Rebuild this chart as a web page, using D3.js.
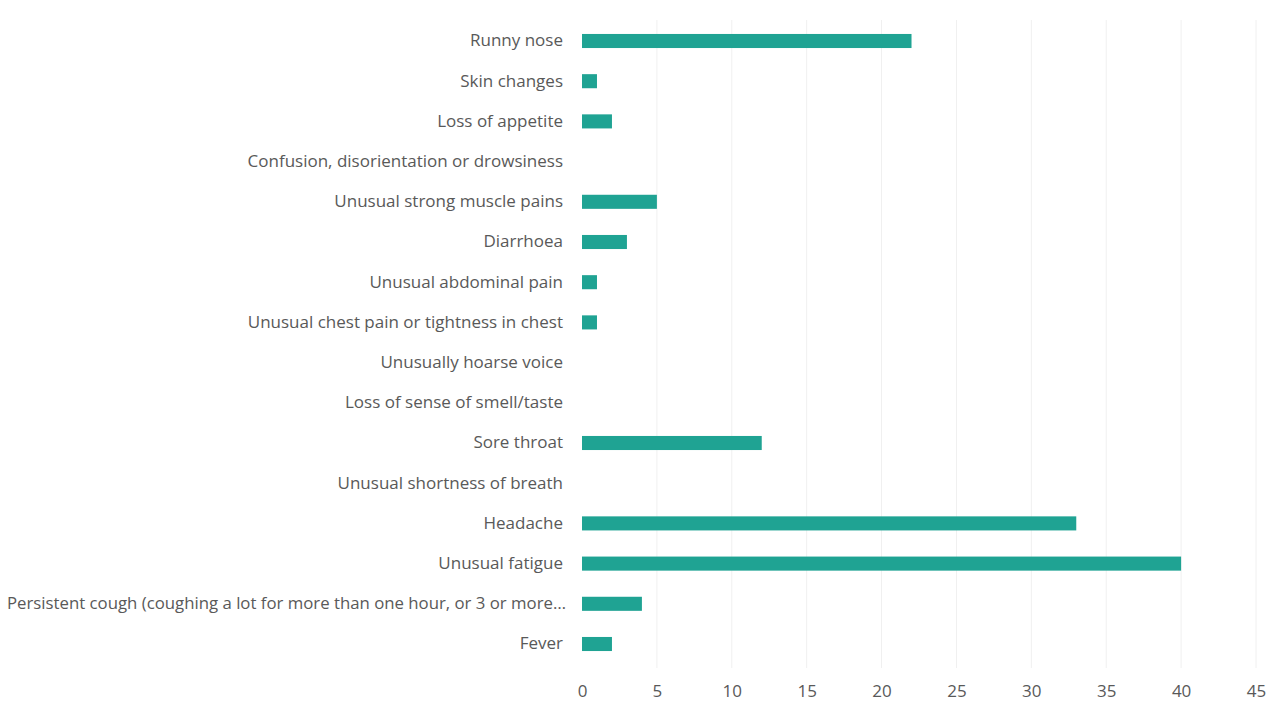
<!DOCTYPE html>
<html>
<head>
<meta charset="utf-8">
<script src="https://cdn.jsdelivr.net/npm/d3@7"></script>
<style>
  body { margin: 0; background: #fff; }
  .axis text { font-family: "Open Sans", sans-serif; font-size: 17px; fill: #595959; }
</style>
</head>
<body>
<div id="graf"></div>
<script>
// Datos
const sintomas = [
  "Runny nose",
  "Skin changes",
  "Loss of appetite",
  "Confusion, disorientation or drowsiness",
  "Unusual strong muscle pains",
  "Diarrhoea",
  "Unusual abdominal pain",
  "Unusual chest pain or tightness in chest",
  "Unusually hoarse voice",
  "Loss of sense of smell/taste",
  "Sore throat",
  "Unusual shortness of breath",
  "Headache",
  "Unusual fatigue",
  "Persistent cough (coughing a lot for more than one hour, or 3 or more\u2026",
  "Fever",
]
const valores = [22, 1, 2, 0, 5, 3, 1, 1, 0, 0, 12, 0, 33, 40, 4, 2]
const ticks = [0, 5, 10, 15, 20, 25, 30, 35, 40, 45]

const data = sintomas.map((s, i) => ({ sintoma: s, valor: valores[i] }))

const anchoTotal = 1280
const altoTotal = 705

const svg = d3
  .select("#graf")
  .append("svg")
  .attr("width", anchoTotal)
  .attr("height", altoTotal)

// Escaladores
const x = d3.scaleLinear().domain([0, 45]).range([582, 1256])
const y = d3
  .scaleBand()
  .domain(sintomas)
  .range([20.9, 664.1])
  .paddingInner(0.65)
  .paddingOuter(0.325)

// Rejilla
svg
  .append("g")
  .selectAll("line")
  .data(ticks.slice(1))
  .join("line")
  .attr("x1", (d) => x(d))
  .attr("x2", (d) => x(d))
  .attr("y1", 20)
  .attr("y2", 668)
  .attr("stroke", "#f0f0f0")
  .attr("stroke-width", 1)

// Ejes
const xAxis = d3.axisBottom(x).tickValues(ticks).tickSize(0).tickPadding(0)
svg
  .append("g")
  .attr("class", "axis")
  .attr("transform", "translate(0, 685)")
  .call(xAxis)
  .call((g) => g.select(".domain").remove())

const yAxis = d3.axisLeft(y).tickSize(0).tickPadding(0)
const yAxisGroup = svg
  .append("g")
  .attr("class", "axis")
  .attr("transform", "translate(563, 0)")
  .call(yAxis)
  .call((g) => g.select(".domain").remove())

// etiqueta larga: se ajusta para que quepa en el ancho
yAxisGroup
  .selectAll(".tick text")
  .filter((d) => d.length > 60)
  .attr("x", 3)
  .attr("textLength", 559)
  .attr("lengthAdjust", "spacingAndGlyphs")

// Barras
svg
  .append("g")
  .selectAll("rect")
  .data(data)
  .join("rect")
  .attr("x", x(0))
  .attr("y", (d) => y(d.sintoma))
  .attr("width", (d) => x(d.valor) - x(0))
  .attr("height", y.bandwidth())
  .attr("fill", "#1fa393")
</script>
</body>
</html>
